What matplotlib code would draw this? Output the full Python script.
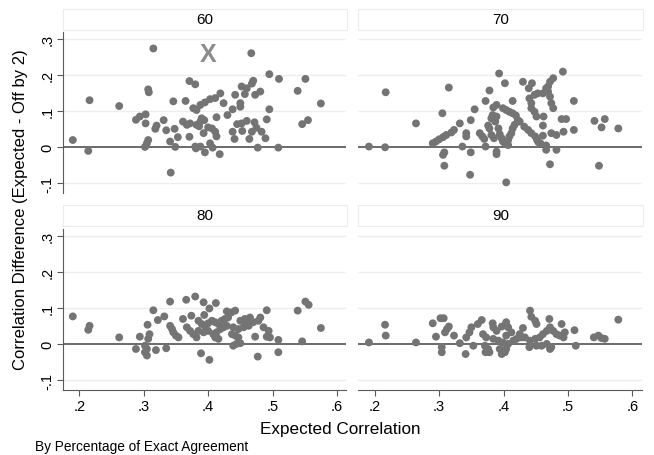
import matplotlib
matplotlib.use('Agg')
import matplotlib.pyplot as plt
from matplotlib.patches import Rectangle

# panel titles (percentage of exact agreement)
panel_titles = ['60', '70', '80', '90']

# x = expected correlation, y = correlation difference
x60 = [0.190, 0.214, 0.216, 0.262, 0.315, 0.307, 0.308, 0.288, 0.294, 0.303,
       0.303, 0.307, 0.305, 0.302, 0.320, 0.318, 0.331, 0.335, 0.341, 0.349,
       0.342, 0.346, 0.348, 0.353, 0.365, 0.371, 0.371, 0.380, 0.381, 0.361,
       0.367, 0.372, 0.382, 0.388, 0.394, 0.377, 0.382, 0.388, 0.395, 0.403,
       0.411, 0.419, 0.424, 0.388, 0.395, 0.403, 0.407, 0.418, 0.413, 0.411,
       0.406, 0.400, 0.393, 0.386, 0.390, 0.413, 0.430, 0.438, 0.467, 0.495,
       0.510, 0.551, 0.539, 0.575, 0.546, 0.555, 0.470, 0.468, 0.452, 0.460,
       0.457, 0.473, 0.481, 0.442, 0.495, 0.491, 0.450, 0.450, 0.445, 0.452,
       0.460, 0.472, 0.475, 0.468, 0.483, 0.489, 0.464, 0.453, 0.441, 0.438,
       0.477, 0.509, 0.380]
y60 = [0.020, -0.010, 0.130, 0.114, 0.273, 0.160, 0.152, 0.076, 0.085, 0.091,
       0.066, 0.020, 0.011, 0.001, 0.060, 0.051, 0.075, 0.047, 0.016, 0.001,
       -0.070, 0.127, 0.051, 0.028, 0.128, 0.029, 0.183, 0.174, -0.003, 0.071,
       0.062, 0.066, 0.062, 0.071, 0.075, 0.108, 0.103, 0.117, 0.124, 0.133,
       0.136, 0.149, 0.122, 0.002, -0.014, 0.011, -0.001, -0.019, 0.030, 0.043,
       0.052, 0.055, 0.039, 0.058, 0.080, 0.083, 0.089, 0.105, 0.260, 0.202,
       0.189, 0.189, 0.156, 0.121, 0.064, 0.075, 0.184, 0.176, 0.168, 0.163,
       0.147, 0.145, 0.154, 0.145, 0.105, 0.077, 0.122, 0.112, 0.064, 0.066,
       0.073, 0.069, 0.054, 0.043, 0.043, 0.025, 0.023, 0.045, 0.023, 0.043,
       -0.001, -0.001, 0.002]

x70 = [0.191, 0.216, 0.217, 0.264, 0.315, 0.305, 0.290, 0.295, 0.300, 0.306,
       0.311, 0.319, 0.323, 0.332, 0.342, 0.342, 0.349, 0.355, 0.306, 0.308,
       0.308, 0.336, 0.349, 0.348, 0.372, 0.363, 0.367, 0.370, 0.378, 0.372,
       0.384, 0.389, 0.383, 0.381, 0.378, 0.376, 0.381, 0.385, 0.389, 0.389,
       0.393, 0.402, 0.404, 0.399, 0.404, 0.409, 0.414, 0.419, 0.422, 0.425,
       0.414, 0.389, 0.387, 0.392, 0.394, 0.397, 0.399, 0.402, 0.407, 0.409,
       0.412, 0.414, 0.417, 0.407, 0.430, 0.439, 0.444, 0.432, 0.438, 0.443,
       0.449, 0.452, 0.454, 0.457, 0.440, 0.443, 0.443, 0.448, 0.451, 0.448,
       0.453, 0.461, 0.466, 0.469, 0.472, 0.474, 0.477, 0.469, 0.472, 0.477,
       0.462, 0.461, 0.461, 0.466, 0.466, 0.472, 0.482, 0.474, 0.482, 0.493,
       0.509, 0.490, 0.497, 0.509, 0.492, 0.541, 0.557, 0.552, 0.578, 0.548]
y70 = [0.002, 0.000, 0.152, 0.066, 0.165, 0.094, 0.011, 0.016, 0.022, 0.028,
       0.034, 0.041, 0.048, 0.066, 0.039, 0.030, 0.075, 0.105, -0.021, -0.014,
       -0.051, 0.002, -0.014, -0.076, 0.002, 0.039, 0.030, 0.023, 0.157, 0.128,
       0.110, 0.117, 0.089, 0.080, 0.052, 0.060, 0.034, 0.025, -0.012, -0.019,
       0.204, 0.177, -0.097, 0.108, 0.103, 0.098, 0.094, 0.088, 0.075, 0.071,
       0.128, 0.085, 0.071, 0.052, 0.036, 0.025, 0.016, 0.011, 0.020, 0.030,
       0.039, 0.052, 0.062, 0.006, 0.181, 0.163, 0.177, 0.057, 0.048, 0.039,
       0.030, 0.020, 0.014, 0.011, 0.135, 0.122, 0.108, 0.098, 0.085, 0.145,
       0.149, 0.149, 0.163, 0.154, 0.140, 0.122, 0.108, 0.168, 0.181, 0.191,
       0.085, 0.060, 0.032, 0.005, -0.007, -0.047, -0.007, 0.039, 0.034, 0.043,
       0.048, 0.078, 0.078, 0.128, 0.209, 0.073, 0.078, 0.055, 0.052, -0.051]

x80 = [0.190, 0.216, 0.214, 0.262, 0.294, 0.288, 0.302, 0.305, 0.302, 0.305,
       0.307, 0.309, 0.306, 0.315, 0.319, 0.335, 0.322, 0.332, 0.341, 0.341,
       0.344, 0.346, 0.350, 0.354, 0.361, 0.366, 0.380, 0.367, 0.372, 0.377,
       0.382, 0.374, 0.393, 0.412, 0.402, 0.394, 0.385, 0.390, 0.395, 0.400,
       0.406, 0.411, 0.416, 0.421, 0.426, 0.431, 0.385, 0.393, 0.400, 0.408,
       0.413, 0.419, 0.424, 0.429, 0.411, 0.416, 0.389, 0.402, 0.442, 0.436,
       0.429, 0.439, 0.447, 0.455, 0.463, 0.470, 0.478, 0.481, 0.457, 0.465,
       0.450, 0.460, 0.437, 0.442, 0.447, 0.439, 0.444, 0.450, 0.473, 0.486,
       0.491, 0.496, 0.494, 0.491, 0.477, 0.509, 0.509, 0.539, 0.551, 0.556,
       0.546, 0.575]
y80 = [0.077, 0.051, 0.040, 0.019, 0.021, -0.013, -0.004, -0.013, -0.022, -0.031,
       0.015, 0.028, 0.054, 0.094, -0.016, -0.011, 0.067, 0.077, 0.118, 0.051,
       0.042, 0.033, 0.024, 0.019, 0.070, 0.123, 0.132, 0.047, 0.037, 0.028,
       0.019, 0.079, 0.116, 0.114, 0.099, 0.081, 0.065, 0.056, 0.051, 0.058,
       0.065, 0.061, 0.056, 0.065, 0.070, 0.074, 0.037, 0.033, 0.037, 0.028,
       0.033, 0.042, 0.047, 0.051, 0.019, 0.015, -0.025, -0.043, 0.093, 0.088,
       0.091, 0.047, 0.042, 0.047, 0.051, 0.061, 0.065, 0.074, 0.070, 0.074,
       0.065, 0.061, 0.028, 0.024, 0.019, -0.004, 0.001, 0.003, 0.021, 0.047,
       0.021, 0.019, 0.037, 0.094, -0.034, 0.012, -0.022, 0.093, 0.118, 0.109,
       0.008, 0.045]

x90 = [0.191, 0.216, 0.217, 0.264, 0.290, 0.302, 0.307, 0.295, 0.304, 0.304,
       0.309, 0.312, 0.315, 0.323, 0.332, 0.341, 0.342, 0.347, 0.350, 0.353,
       0.360, 0.366, 0.368, 0.373, 0.371, 0.372, 0.376, 0.378, 0.383, 0.384,
       0.389, 0.397, 0.404, 0.407, 0.412, 0.404, 0.384, 0.392, 0.399, 0.407,
       0.415, 0.420, 0.428, 0.394, 0.397, 0.402, 0.404, 0.430, 0.441, 0.443,
       0.449, 0.451, 0.425, 0.433, 0.441, 0.449, 0.456, 0.461, 0.467, 0.472,
       0.477, 0.482, 0.487, 0.495, 0.451, 0.459, 0.467, 0.440, 0.471, 0.472,
       0.474, 0.490, 0.493, 0.510, 0.512, 0.540, 0.547, 0.552, 0.557, 0.578]
y90 = [0.005, 0.054, 0.024, 0.005, 0.058, 0.072, 0.072, 0.021, -0.008, -0.022,
       0.033, 0.042, 0.049, 0.024, 0.003, -0.027, 0.019, 0.033, 0.047, -0.004,
       0.056, 0.067, 0.028, 0.019, -0.004, -0.022, -0.013, -0.022, 0.058, 0.047,
       0.037, 0.049, 0.061, 0.047, 0.033, 0.024, 0.015, 0.010, 0.005, 0.001,
       0.010, 0.015, 0.019, -0.013, -0.027, -0.022, -0.013, 0.045, 0.093, 0.076,
       0.065, 0.056, 0.028, 0.019, 0.010, 0.015, 0.019, 0.028, 0.037, 0.047,
       0.037, 0.028, 0.024, 0.033, -0.004, -0.004, 0.001, -0.008, 0.070, -0.013,
       -0.008, 0.056, 0.019, 0.039, -0.004, 0.019, 0.024, 0.017, 0.015, 0.068]

x_ticks = [0.2, 0.3, 0.4, 0.5, 0.6]
x_tick_labels = ['.2', '.3', '.4', '.5', '.6']
y_ticks = [-0.1, 0, 0.1, 0.2, 0.3]
y_tick_labels = ['-.1', '0', '.1', '.2', '.3']

plt.rcParams['font.family'] = ['Liberation Sans', 'DejaVu Sans']

W, H = 654, 456
fig = plt.figure(figsize=(W / 100, H / 100), dpi=100)

dot_color = '#747474'
axis_color = '#5a5a5a'

# pixel boxes (left, top, right, bottom) of the four plot regions
boxes = [(62.5, 32.5, 346, 193.5), (358, 32.5, 641.5, 193.5),
         (62.5, 229.5, 346, 390.5), (358, 229.5, 641.5, 390.5)]
strips = [(62.5, 10, 347, 31), (358, 10, 643, 31),
          (62.5, 206, 347, 227), (358, 206, 643, 227)]
data = [(x60, y60), (x70, y70), (x80, y80), (x90, y90)]

for i, ((l, t, r, b), (xs, ys)) in enumerate(zip(boxes, data)):
    ax = fig.add_axes([l / W, 1 - b / H, (r - l) / W, (b - t) / H])
    ax.set_xlim(0.174, 0.614)
    ax.set_ylim(-0.125, 0.32)
    for g in [-0.1, 0.1, 0.2, 0.3]:
        ax.axhline(g, color='#ededed', lw=1.0, zorder=0)
    ax.axhline(0, color='#6a6a6a', lw=1.4, zorder=1)
    ax.scatter(xs, ys, s=32, color=dot_color, edgecolors='none', zorder=2)

    for s in ['top', 'right']:
        ax.spines[s].set_visible(False)
    left_col = (i % 2 == 0)
    bottom_row = (i >= 2)
    ax.spines['left'].set_visible(left_col)
    ax.spines['bottom'].set_visible(bottom_row)
    ax.spines['left'].set_color(axis_color)
    ax.spines['bottom'].set_color(axis_color)

    if left_col:
        ax.set_yticks(y_ticks)
        ax.set_yticklabels(y_tick_labels, rotation=90, va='center', fontsize=10.5)
        ax.tick_params(axis='y', length=4, color=axis_color, pad=2)
    else:
        ax.set_yticks([])
    if bottom_row:
        ax.set_xticks(x_ticks)
        ax.set_xticklabels(x_tick_labels, fontsize=10.5)
        ax.tick_params(axis='x', length=4, color=axis_color, pad=3)
    else:
        ax.set_xticks([])

    if i == 0:
        ax.text(0.40, 0.257, 'X', color='#8c8c8c', fontsize=18, fontweight='bold',
                ha='center', va='center')

    sl, st, sr, sb = strips[i]
    fig.add_artist(Rectangle((sl / W, 1 - sb / H), (sr - sl) / W, (sb - st) / H,
                             transform=fig.transFigure, facecolor='white',
                             edgecolor='#ececec', lw=0.8))
    fig.text((sl + sr) / 2 / W, 1 - (st + sb) / 2 / H, panel_titles[i],
             ha='center', va='center', fontsize=11)

fig.text(21 / W, 1 - 210 / H, 'Correlation Difference (Expected - Off by 2)',
         rotation=90, ha='center', va='center', fontsize=12)
fig.text(340 / W, 1 - 430 / H, 'Expected Correlation', ha='center', va='center',
         fontsize=12.3)
fig.text(35 / W, 1 - 447 / H, 'By Percentage of Exact Agreement', ha='left',
         va='center', fontsize=9.8)

fig.savefig('out.png', dpi=100)
